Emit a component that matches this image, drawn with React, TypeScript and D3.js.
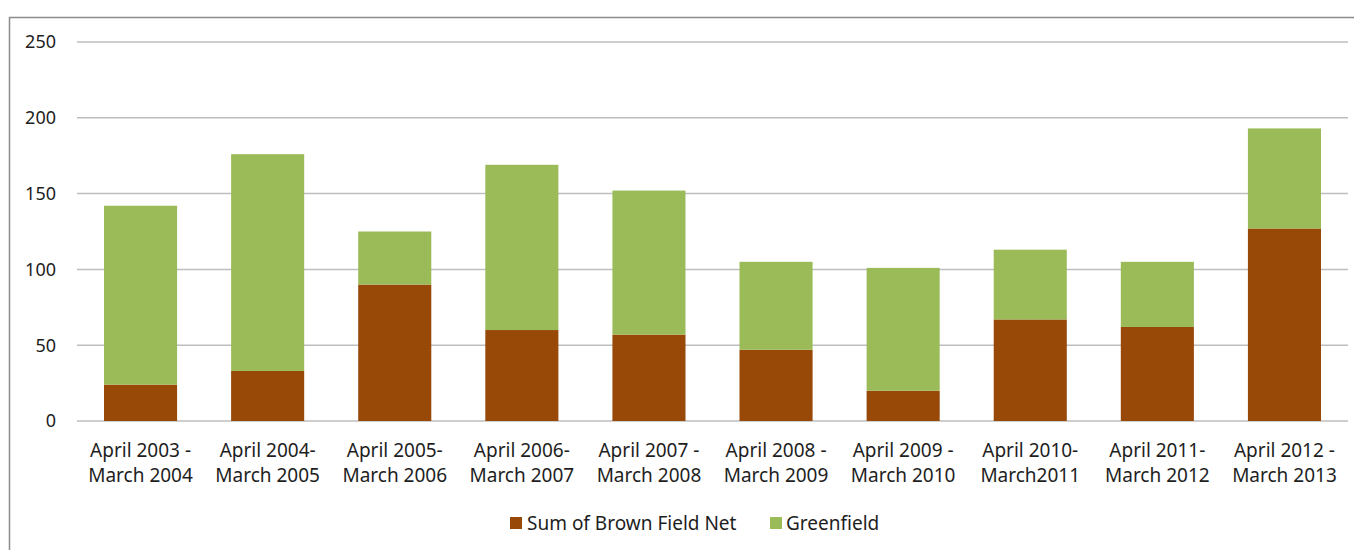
import React from "react";
import * as d3 from "d3";

const categories = [
  ["April 2003 -", "March 2004"],
  ["April 2004-", "March 2005"],
  ["April 2005-", "March 2006"],
  ["April 2006-", "March 2007"],
  ["April 2007 -", "March 2008"],
  ["April 2008 -", "March 2009"],
  ["April 2009 -", "March 2010"],
  ["April 2010-", "March2011"],
  ["April 2011-", "March 2012"],
  ["April 2012 -", "March 2013"],
];
const brownfield = [24, 33, 90, 60, 57, 47, 20, 67, 62, 127];
const greenfield = [118, 143, 35, 109, 95, 58, 81, 46, 43, 66];
const yTicks = [0, 50, 100, 150, 200, 250];
const seriesNames = ["Sum of Brown Field Net", "Greenfield"];
const colors = ["#984807", "#9BBB59"];

const FONT = "'Noto Sans', sans-serif";
const TXT = "#1e1e1e";

export default function App() {
  const W = 1362;
  const H = 550;
  const left = 77;
  const right = 1348;
  const top = 42;
  const bottom = 421;
  const x = d3
    .scaleBand<number>()
    .domain(d3.range(categories.length))
    .range([left, right])
    .paddingInner(0.425)
    .paddingOuter(0.2125);
  const y = d3.scaleLinear().domain([0, 250]).range([bottom, top]);

  return (
    <svg width={W - 8} height={H - 8} style={{ display: "block" }}>
      <g transform="translate(-8,-8)">
        <rect x={9.5} y={17.5} width={1400} height={600} fill="white" stroke="#8c8c8c" strokeWidth={1.5} />
        {yTicks.map((t) => (
          <g key={t}>
            <line x1={left} x2={right} y1={y(t)} y2={y(t)} stroke="#BEBEBE" strokeWidth={1.5} />
            <text x={56} y={y(t)} dy="0.35em" textAnchor="end" fontFamily={FONT} fontSize={18} fill={TXT}>
              {t}
            </text>
          </g>
        ))}
        {categories.map((c, i) => {
          const bx = x(i)!;
          const bw = x.bandwidth();
          const b = brownfield[i];
          const g = greenfield[i];
          return (
            <g key={i}>
              <rect x={bx} y={y(b)} width={bw} height={y(0) - y(b)} fill={colors[0]} />
              <rect x={bx} y={y(b + g)} width={bw} height={y(b) - y(b + g)} fill={colors[1]} />
              {c.map((line, k) => (
                <text
                  key={k}
                  x={bx + bw / 2}
                  y={457 + k * 25}
                  textAnchor="middle"
                  fontFamily={FONT}
                  fontSize={19}
                  fill={TXT}
                >
                  {line}
                </text>
              ))}
            </g>
          );
        })}
        <g>
          <rect x={510} y={517} width={12} height={12} fill={colors[0]} />
          <text x={527} y={530} fontFamily={FONT} fontSize={19} fill={TXT}>
            {seriesNames[0]}
          </text>
          <rect x={770} y={517} width={12} height={12} fill={colors[1]} />
          <text x={786} y={530} fontFamily={FONT} fontSize={19} fill={TXT}>
            {seriesNames[1]}
          </text>
        </g>
      </g>
    </svg>
  );
}
